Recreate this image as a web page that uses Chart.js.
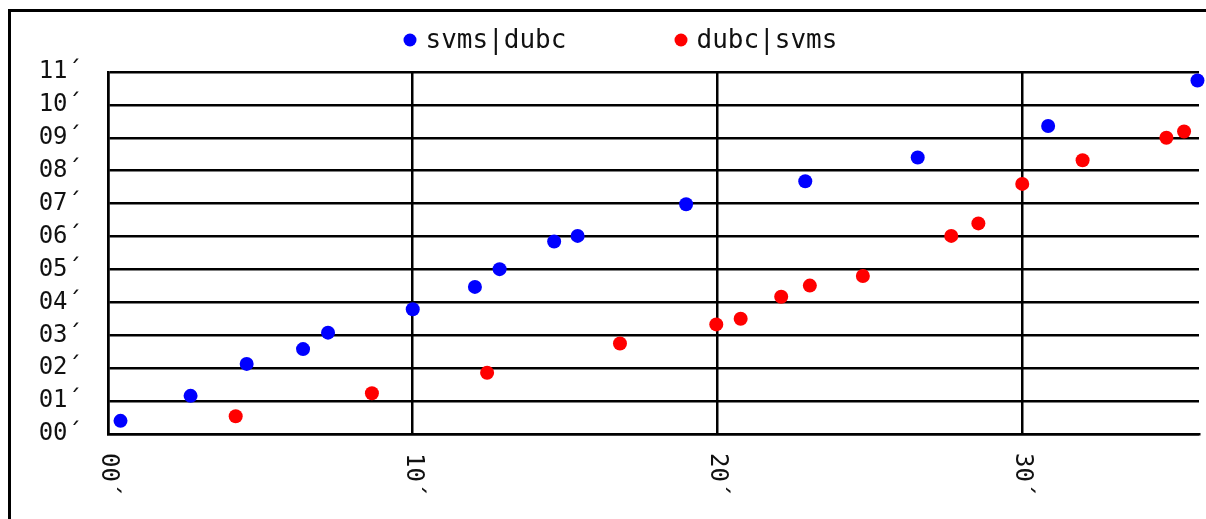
<!DOCTYPE html>
<html>
<head>
<meta charset="utf-8">
<script src="https://cdn.jsdelivr.net/npm/chart.js@4.4.1/dist/chart.umd.min.js"></script>
<style>
  html, body { margin: 0; padding: 0; background: #fff; overflow: hidden; }
  #frame { position: absolute; left: 8px; top: 9px; width: 1400px; height: 700px; border: 3px solid #000; }
  #wrap { position: absolute; left: 0; top: 0; width: 1206px; height: 519px; }
</style>
</head>
<body>
<div id="frame"></div>
<div id="wrap"><canvas id="chart"></canvas></div>
<script>
// series names
const seriesNames = ["svms|dubc", "dubc|svms"];
const seriesColors = ["#0000ff", "#ff0000"];

// svms|dubc (blue)
const blueX = [0.41, 2.71, 4.55, 6.40, 7.22, 10.0, 12.04, 12.85, 14.64, 15.41, 18.97, 22.88, 26.57, 30.85, 35.75];
const blueY = [0.40, 1.16, 2.13, 2.58, 3.08, 3.79, 4.47, 5.01, 5.85, 6.02, 6.98, 7.68, 8.40, 9.36, 10.74];

// dubc|svms (red)
const redX = [4.19, 8.66, 12.44, 16.80, 19.96, 20.76, 22.09, 23.03, 24.77, 27.67, 28.56, 30.0, 31.98, 34.73, 35.31];
const redY = [0.54, 1.24, 1.86, 2.75, 3.33, 3.50, 4.17, 4.51, 4.80, 6.02, 6.40, 7.60, 8.32, 9.00, 9.19];

// tick labels
const xTickLabels = ["00´", "10´", "20´", "30´"];
const yTickLabels = ["00´", "01´", "02´", "03´", "04´", "05´", "06´", "07´", "08´", "09´", "10´", "11´"];

function toPoints(xs, ys) {
  return xs.map((x, i) => ({ x: x, y: ys[i] }));
}

// x labels are rotated clockwise and the legend has wide spacing, so both are drawn here
const extras = {
  id: "extras",
  afterDraw(chart) {
    const ctx = chart.ctx;
    const xs = chart.scales.x;
    ctx.save();
    ctx.fillStyle = "#111";
    ctx.font = "24px 'DejaVu Sans Mono'";
    ctx.textAlign = "left";
    ctx.textBaseline = "middle";
    xs.ticks.forEach((t) => {
      const px = xs.getPixelForValue(t.value);
      ctx.save();
      ctx.translate(px, xs.top + 19);
      ctx.rotate(Math.PI / 2);
      ctx.fillText(t.label, 0, 0);
      ctx.restore();
    });

    ctx.font = "26px 'DejaVu Sans Mono'";
    chart.data.datasets.forEach((ds, i) => {
      const cx = 410 + i * 271;
      const cy = 40;
      ctx.beginPath();
      ctx.fillStyle = ds.backgroundColor;
      ctx.arc(cx, cy, 6.5, 0, Math.PI * 2);
      ctx.fill();
      ctx.fillStyle = "#111";
      ctx.fillText(ds.label, cx + 15.5, cy + 1);
    });
    ctx.restore();
  }
};

new Chart(document.getElementById("chart"), {
  type: "scatter",
  data: {
    datasets: [
      {
        label: seriesNames[0],
        data: toPoints(blueX, blueY),
        backgroundColor: seriesColors[0],
        borderWidth: 0,
        pointRadius: 7,
        pointHoverRadius: 7,
        clip: false,
      },
      {
        label: seriesNames[1],
        data: toPoints(redX, redY),
        backgroundColor: seriesColors[1],
        borderWidth: 0,
        pointRadius: 7,
        pointHoverRadius: 7,
        clip: false,
      },
    ],
  },
  options: {
    responsive: true,
    maintainAspectRatio: false,
    animation: false,
    layout: { padding: { top: 72, right: 6, left: 0, bottom: 0 } },
    plugins: {
      legend: { display: false },
      tooltip: { enabled: false },
    },
    scales: {
      x: {
        type: "linear",
        min: 0,
        max: 35.8,
        ticks: {
          stepSize: 10,
          includeBounds: false,
          display: false,
          callback: (v) => xTickLabels[v / 10],
        },
        grid: { color: "#000", lineWidth: 2.5, drawTicks: false },
        border: { color: "#000", width: 2.5 },
        afterFit: (s) => { s.height = 85; },
      },
      y: {
        min: 0,
        max: 11,
        ticks: {
          stepSize: 1,
          padding: 26,
          color: "#111",
          font: { family: "'DejaVu Sans Mono'", size: 24 },
          callback: (v) => yTickLabels[v],
        },
        grid: { color: "#000", lineWidth: 2.5, drawTicks: false },
        border: { color: "#000", width: 2.5 },
        afterFit: (s) => { s.width = 108; },
      },
    },
  },
  plugins: [extras],
});
</script>
</body>
</html>
